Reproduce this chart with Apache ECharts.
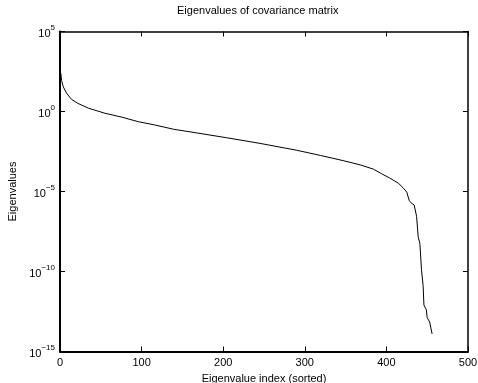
<!DOCTYPE html>
<html>
<head>
<meta charset="utf-8">
<script src="https://cdn.jsdelivr.net/npm/echarts@6/dist/echarts.min.js"></script>
<style>html,body{margin:0;padding:0;background:#fff}#c{width:478px;height:383px}</style>
</head>
<body>
<div id="c"></div>
<script>
// Eigenvalue index (sorted)
var indices = [1, 2, 4, 8, 14, 22, 35, 55, 76, 96, 116, 139, 163, 204, 245, 290, 319, 347, 368, 384, 394, 404, 415, 421, 425, 428, 431, 434, 437, 439, 441, 443, 445, 446, 449, 450, 453, 456];
// Eigenvalues
var eigenvalues = [250, 85, 35, 14, 5.8, 3.2, 1.6, 0.78, 0.44, 0.23, 0.145, 0.078, 0.05, 0.023, 0.0102, 0.0038, 0.0018, 8.5e-4, 4.6e-4, 2.5e-4, 1.3e-4, 7e-5, 3.2e-5, 1.6e-5, 9e-6, 2.7e-6, 1.8e-6, 1.45e-6, 2.8e-7, 1.4e-8, 5.8e-9, 1.3e-10, 1.3e-11, 8e-13, 4e-13, 1.3e-13, 7e-14, 1.25e-14];
var xTicks = [0, 100, 200, 300, 400, 500];
var yTickExponents = [-15, -10, -5, 0, 5];

var font = 'Liberation Sans, Arial, Helvetica, sans-serif';
var pts = indices.map(function (x, k) { return [x, eigenvalues[k]]; });

function supLabel(v) {
  var e = Math.round(Math.log10(v));
  if (yTickExponents.indexOf(e) < 0) return '';
  var s = e < 0 ? '\u2212' + (-e) : '' + e;
  return '{b|10}{s|' + s + '}';
}

var chart = echarts.init(document.getElementById('c'), null, {renderer: 'canvas'});
var axisLineMain = {show: true, onZero: false, lineStyle: {color: '#000', width: 2}};
var axisLineOpp = {show: true, onZero: false, lineStyle: {color: '#000', width: 1.5}};
var tick = {show: true, inside: true, length: 5, lineStyle: {color: '#000', width: 1}};
chart.setOption({
  animation: false,
  backgroundColor: '#fff',
  title: {
    text: 'Eigenvalues of covariance matrix',
    left: 172, top: 0,
    textStyle: {fontFamily: font, fontSize: 11, fontWeight: 'normal', color: '#000'}
  },
  grid: {left: 60, right: 10, top: 31.5, bottom: 31.5, containLabel: false, outerBoundsMode: 'none'},
  xAxis: [{
    type: 'value', min: 0, max: 500, interval: 100, position: 'bottom',
    name: 'Eigenvalue index (sorted)', nameLocation: 'middle', nameGap: 21,
    nameTextStyle: {fontFamily: font, fontSize: 11, color: '#000'},
    axisLine: axisLineMain, axisTick: tick, splitLine: {show: false},
    axisLabel: {fontFamily: font, fontSize: 11, color: '#000', margin: 6,
      formatter: function (v) { return xTicks.indexOf(v) >= 0 ? String(v) : ''; }}
  }, {
    type: 'value', min: 0, max: 500, interval: 100, position: 'top',
    axisLine: axisLineOpp, axisTick: tick, splitLine: {show: false}, axisLabel: {show: false}
  }],
  yAxis: [{
    type: 'log', logBase: 10, min: 1e-15, max: 1e5, interval: 5, position: 'left',
    name: 'Eigenvalues', nameLocation: 'middle', nameGap: 40, nameRotate: 90,
    nameTextStyle: {fontFamily: font, fontSize: 11, color: '#000'},
    axisLine: axisLineMain, axisTick: tick, splitLine: {show: false},
    axisLabel: {
      fontFamily: font, color: '#000', margin: 5,
      formatter: supLabel,
      rich: {
        b: {fontFamily: font, fontSize: 11, color: '#000', lineHeight: 16, verticalAlign: 'bottom'},
        s: {fontFamily: font, fontSize: 8, color: '#000', lineHeight: 9, verticalAlign: 'top'}
      }
    }
  }, {
    type: 'log', logBase: 10, min: 1e-15, max: 1e5, interval: 5, position: 'right',
    axisLine: axisLineOpp, axisTick: tick, splitLine: {show: false}, axisLabel: {show: false}
  }],
  series: [{
    type: 'line', data: pts, xAxisIndex: 0, yAxisIndex: 0,
    showSymbol: false, symbol: 'none', smooth: false,
    lineStyle: {color: '#000', width: 1}
  }]
});
</script>
</body>
</html>
